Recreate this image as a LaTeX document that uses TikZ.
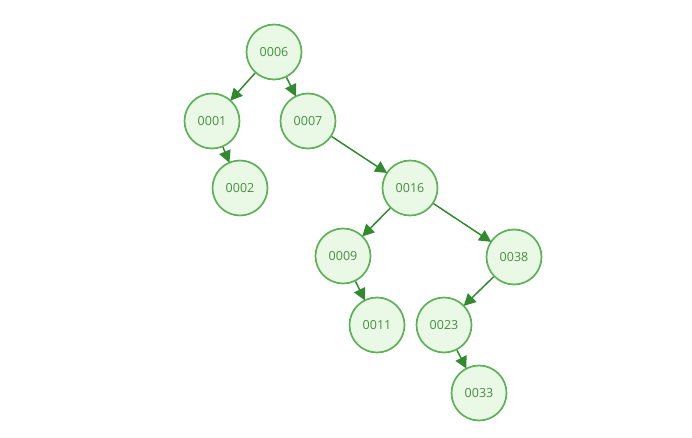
\documentclass[tikz,border=0pt]{standalone}
\usepackage{fontspec}
\setmainfont{Open Sans}
\usetikzlibrary{arrows.meta}
\definecolor{nodefill}{HTML}{EAF8E6}
\definecolor{nodeborder}{HTML}{5DB159}
\definecolor{nodetext}{HTML}{44903F}
\definecolor{edgecol}{HTML}{328A2E}
\tikzset{
  treenode/.style={circle, draw=nodeborder, fill=nodefill, line width=1.7pt,
    minimum size=55pt, inner sep=0pt, text=nodetext, font=\fontsize{12.5}{13}\selectfont},
  treeedge/.style={draw=edgecol, line width=1.5pt,
    -{Triangle[length=12pt,width=12pt]}, shorten >=-1pt}
}
\begin{document}
\begin{tikzpicture}[x=1pt,y=-1pt]
\useasboundingbox (0,0) rectangle (692,438);
\node[treenode] (n6)  at (274,52)  {0006};
\node[treenode] (n1)  at (212,121) {0001};
\node[treenode] (n7)  at (308,121) {0007};
\node[treenode] (n2)  at (240,188) {0002};
\node[treenode] (n16) at (410,188) {0016};
\node[treenode] (n9)  at (343,256) {0009};
\node[treenode] (n38) at (514,257) {0038};
\node[treenode] (n11) at (377,325) {0011};
\node[treenode] (n23) at (444,325) {0023};
\node[treenode] (n33) at (479,393) {0033};
\draw[treeedge] (n6) -- (n1);
\draw[treeedge] (n6) -- (n7);
\draw[treeedge] (n1) -- (n2);
\draw[treeedge] (n7) -- (n16);
\draw[treeedge] (n16) -- (n9);
\draw[treeedge] (n16) -- (n38);
\draw[treeedge] (n9) -- (n11);
\draw[treeedge] (n38) -- (n23);
\draw[treeedge] (n23) -- (n33);
\end{tikzpicture}
\end{document}
